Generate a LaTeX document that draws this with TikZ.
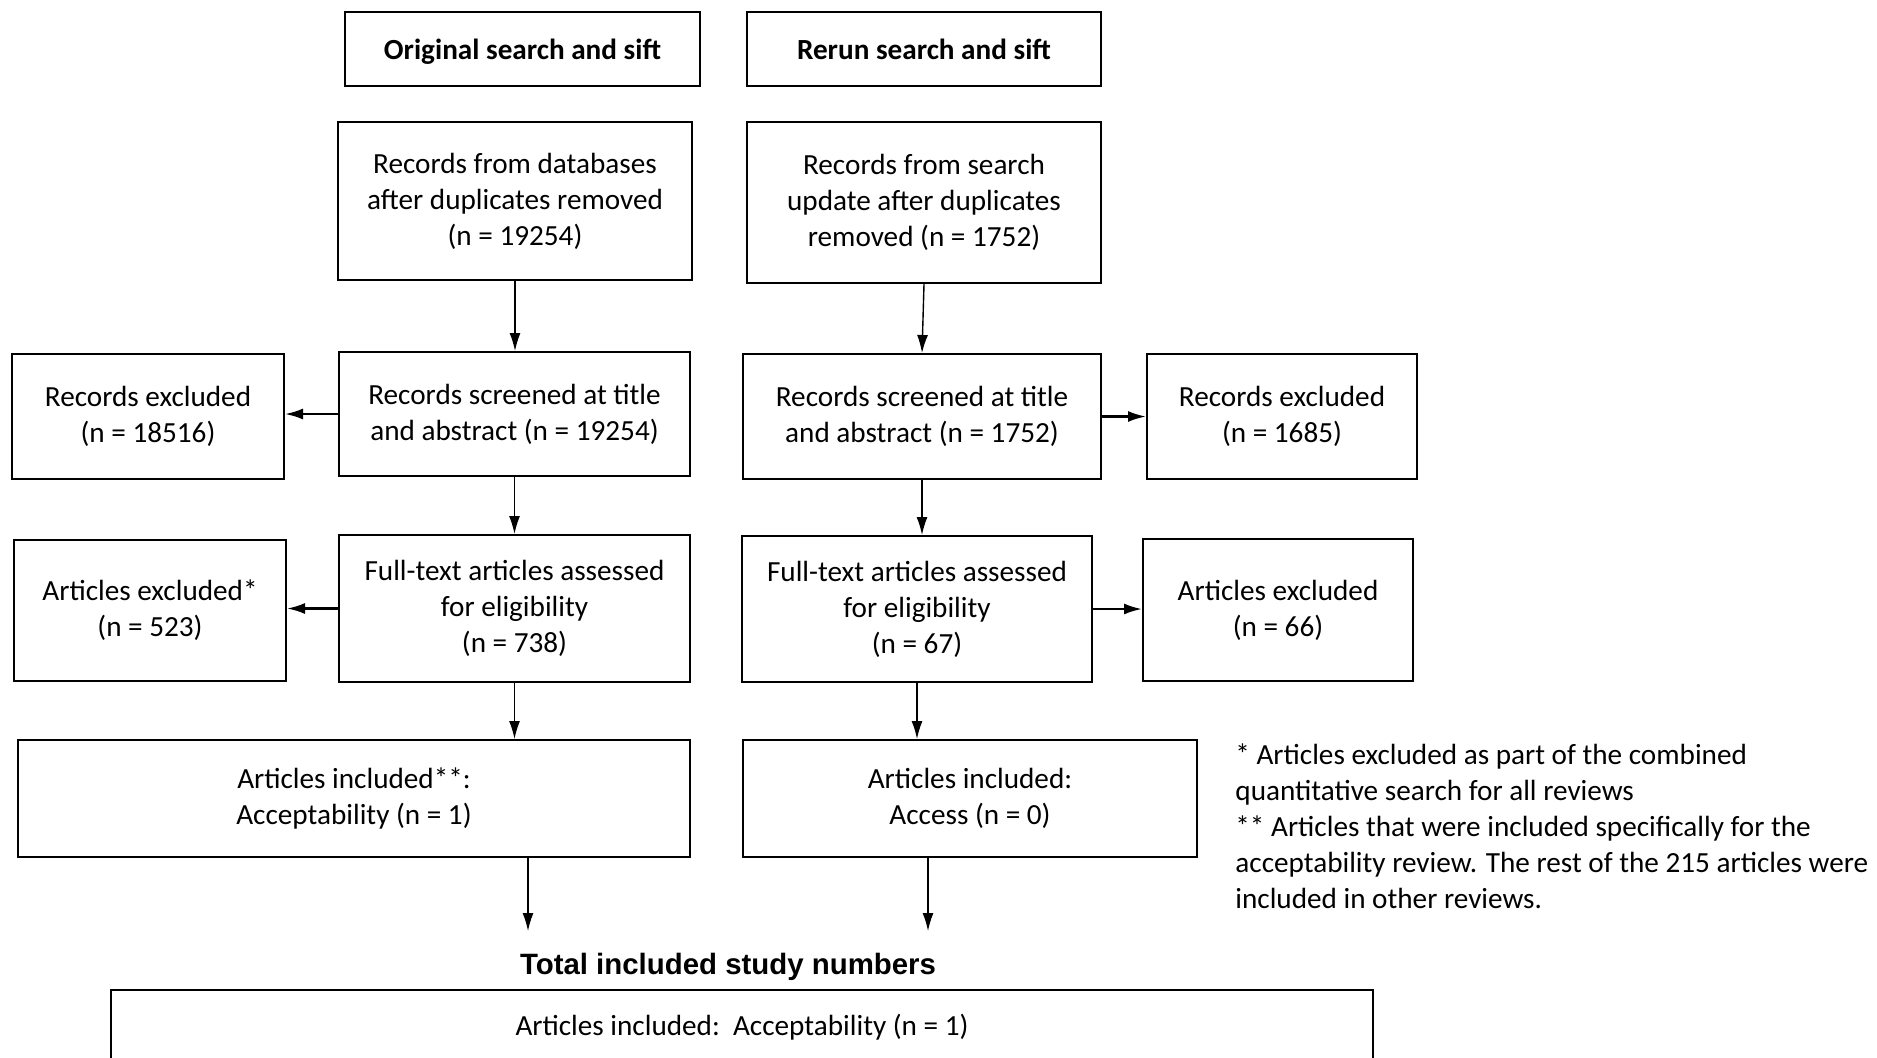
\documentclass[tikz,border=0pt]{standalone}
\usepackage{fontspec}
\setmainfont{Carlito}
\newfontfamily\arialfont{Liberation Sans}
\usetikzlibrary{arrows.meta}

\begin{document}
\begin{tikzpicture}[x=0.5pt,y=-0.5pt,
every node/.style={anchor=center,
align=center,
inner sep=0pt,
font=\fontsize{14.6}{18}\selectfont
},
box/.style={%
draw,
line width=1pt
},
head/.style={%
box,
minimum height=37pt,
text height=13.9pt,
text depth=3pt,
font=\fontsize{14.6}{18}\selectfont\bfseries
},
arr/.style={%
-{Latex[length=9pt,width=5.5pt]},
line width=0.7pt
},
harr/.style={%
arr,
line width=1.1pt
}]
\useasboundingbox (0,0) rectangle (1877,1057);
\clip (0,0) rectangle (1877,1057);
\node[head,minimum width=177.5pt]at(522.5,49)(orig){Original search and sift};
\node[head,minimum width=177pt]at(924,49)(rerun){Rerun search and sift};
\node[box,minimum width=177pt,minimum height=79pt]at(515,201)(dbA){Records from databases\\after duplicates removed\\(n = 19254)};
\node[box,minimum width=177pt,minimum height=80.5pt]at(924,202.5)(dbB){Records from search\\update after duplicates\\removed (n = 1752)};
\node[box,minimum width=136pt,minimum height=62.5pt]at(148,416.5)(exclA){Records excluded\\(n = 18516)};
\node[box,minimum width=175.5pt,minimum height=62pt]at(514.5,414)(screenA){Records screened at title\\and abstract (n = 19254)};
\node[box,minimum width=179pt,minimum height=62.5pt]at(922,416.5)(screenB){Records screened at title\\and abstract (n = 1752)};
\node[box,minimum width=135pt,minimum height=62.5pt]at(1282,416.5)(exclB){Records excluded\\(n = 1685)};
\node[box,minimum width=136pt,minimum height=70.5pt]at(150,610.5)(artexA){Articles excluded*\\(n = 523)};
\node[box,minimum width=175.5pt,minimum height=73.5pt]at(514.5,608.5)(fullA){Full-text articles assessed\\for eligibility\\(n = 738)};
\node[box,minimum width=175pt,minimum height=73pt]at(917,609)(fullB){Full-text articles assessed\\for eligibility\\(n = 67)};
\node[box,minimum width=135pt,minimum height=71pt]at(1278,610)(artexB){Articles excluded\\(n = 66)};
\node[box,minimum width=336pt,minimum height=58.5pt]at(354,798.5)(inclA){Articles included**:\\Acceptability (n = 1)};
\node[box,minimum width=227pt,minimum height=58.5pt]at(970,798.5)(inclB){Articles included:\\Access (n = 0)};
\node[anchor=west,align=left]at(1235,826)(notes){* Articles excluded as part of the combined\\quantitative search for all reviews\\** Articles that were included specifically for the\\acceptability review. The rest of the 215 articles were\\included in other reviews.};
\node[font=\arialfont\fontsize{14.7}{18}\selectfont\bfseries]at(728,967)(total){Total included study numbers};
\node[box,minimum width=631pt,minimum height=37pt]at(742,1027)(final){Articles included:\ \ Acceptability (n = 1)};
\coordinate (totA) at (528,931);
\coordinate (totB) at (928,931);
\draw[arr] (dbA.south) -- (dbA.south |- screenA.north);
\draw[arr] (dbB.south) -- (screenB.north);
\draw[harr] (screenA.west) -- (screenA.west -| exclA.east);
\draw[harr] (screenB.east) -- (screenB.east -| exclB.west);
\draw[arr] (screenA.south) -- (screenA.south |- fullA.north);
\draw[arr] (screenB.south) -- (screenB.south |- fullB.north);
\draw[harr] (fullA.west) -- (fullA.west -| artexA.east);
\draw[harr] (fullB.east) -- (fullB.east -| artexB.west);
\draw[arr] (fullA.south) -- (fullA.south |- inclA.north);
\draw[arr] (fullB.south) -- (fullB.south |- inclB.north);
\draw[arr] (inclA.south -| totA) -- (totA);
\draw[arr] (inclB.south -| totB) -- (totB);
\end{tikzpicture}
\end{document}
